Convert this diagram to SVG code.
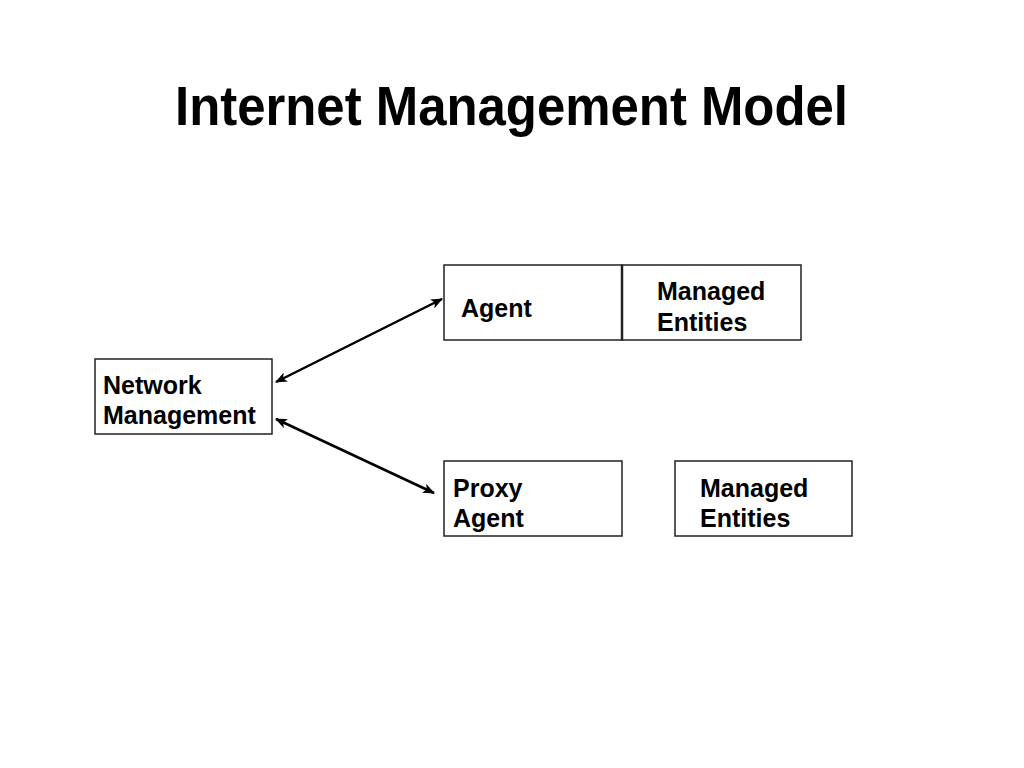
<svg xmlns="http://www.w3.org/2000/svg" width="1024" height="768" viewBox="0 0 1024 768">
<style>
.box{fill:#fff;stroke:#222;stroke-width:1.5}
.lbl{font-family:"Liberation Sans",Arial,sans-serif;font-weight:bold;font-size:25px;fill:#000}
.conn{stroke:#000;stroke-width:2.5;fill:none;marker-start:url(#ah);marker-end:url(#ah)}
</style>
<defs>
<marker id="ah" viewBox="0 0 12 10" refX="11" refY="5" markerWidth="12" markerHeight="10" markerUnits="userSpaceOnUse" orient="auto-start-reverse">
<path d="M0,0 L12,5 L0,10 L3,5 Z" fill="#000"/>
</marker>
</defs>
<rect width="1024" height="768" fill="#fff"/>
<text x="175" y="125" font-family="Liberation Sans,Arial,sans-serif" font-weight="bold" font-size="56" textLength="673" lengthAdjust="spacingAndGlyphs">Internet Management Model</text>
<g id="connectors">
<line class="conn" x1="276" y1="382" x2="442" y2="299"/>
<line class="conn" x1="276" y1="419" x2="434" y2="493"/>
</g>
<g id="network-management">
<rect class="box" x="95" y="359" width="177" height="75"/>
<text class="lbl" x="103" y="394">Network</text>
<text class="lbl" x="103" y="424">Management</text>
</g>
<g id="agent">
<rect class="box" x="444" y="265" width="178" height="75"/>
<text class="lbl" x="461" y="317">Agent</text>
</g>
<g id="managed-entities-1">
<rect class="box" x="622" y="265" width="179" height="75"/>
<line x1="622" y1="265" x2="622" y2="340" stroke="#222" stroke-width="2.5"/>
<text class="lbl" x="657" y="300">Managed</text>
<text class="lbl" x="657" y="331">Entities</text>
</g>
<g id="proxy-agent">
<rect class="box" x="444" y="461" width="178" height="75"/>
<text class="lbl" x="453" y="497">Proxy</text>
<text class="lbl" x="453" y="527">Agent</text>
</g>
<g id="managed-entities-2">
<rect class="box" x="675" y="461" width="177" height="75"/>
<text class="lbl" x="700" y="497">Managed</text>
<text class="lbl" x="700" y="527">Entities</text>
</g>
</svg>
